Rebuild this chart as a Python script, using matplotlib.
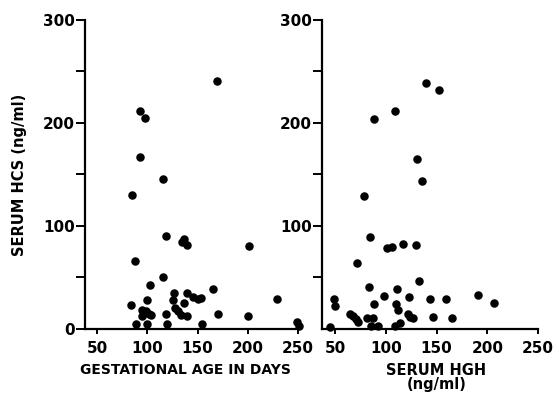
import numpy as np
import matplotlib
matplotlib.use('Agg')
import matplotlib.pyplot as plt

# left panel: gestational age (days) vs serum HCS (ng/ml)
age_days = [169, 93, 98, 93, 116, 85, 119, 137, 135, 140, 201, 88, 116, 103, 165,
            84, 100, 95, 102, 95, 99, 104, 89, 100, 120, 119, 127, 126, 137, 140,
            128, 131, 134, 140, 145, 150, 153, 229, 170, 200, 154, 249, 251]
hcs_age = [241, 212, 205, 167, 146, 130, 90, 87, 84, 82, 81, 66, 50, 43, 39,
           23, 28, 18, 15, 13, 17, 14, 5, 5, 5, 15, 35, 28, 25, 35,
           20, 17, 14, 13, 31, 29, 30, 29, 15, 13, 5, 7, 3]

# right panel: serum HGH (ng/ml) vs serum HCS (ng/ml)
hgh = [140, 152, 109, 88, 131, 136, 78, 84, 101, 106, 117, 130, 72, 133, 83,
       111, 98, 123, 144, 159, 191, 207, 49, 50, 88, 110, 112, 65, 68, 71,
       73, 81, 87, 85, 92, 109, 114, 122, 124, 127, 146, 165, 45]
hcs_hgh = [239, 232, 212, 204, 165, 144, 129, 89, 79, 80, 83, 82, 64, 47, 41,
           39, 32, 31, 29, 29, 33, 25, 29, 22, 24, 24, 18, 15, 13, 10,
           7, 11, 11, 3, 3, 3, 6, 15, 12, 11, 12, 11, 2]

x_ticks = [50, 100, 150, 200, 250]
y_major = [0, 100, 200, 300]
y_minor = [50, 150, 250]


def style(ax, xlim, yticks):
    ax.set_xlim(*xlim)
    ax.set_ylim(0, 300)
    for s in ['top', 'right']:
        ax.spines[s].set_visible(False)
    for s in ['left', 'bottom']:
        ax.spines[s].set_linewidth(1.6)
    ax.spines['left'].set_bounds(0, 300)
    ax.set_xticks(x_ticks)
    ax.set_xticklabels([str(t) for t in x_ticks], fontsize=11, fontweight='bold')
    ax.set_yticks(yticks)
    ax.set_yticklabels([str(t) for t in yticks], fontsize=11, fontweight='bold')
    ax.set_yticks(y_minor, minor=True)
    ax.tick_params(axis='y', which='both', direction='out', length=6.5, width=1.4, pad=1)
    ax.tick_params(axis='x', direction='out', length=3.5, width=1.4, pad=5)
    ax.patch.set_visible(False)


fig = plt.figure(figsize=(5.59, 3.95), dpi=100)

ax1 = fig.add_axes([0.1521, 0.1671, 0.3810, 0.7823])
ax1.scatter(age_days, hcs_age, s=26, color='black', clip_on=False, zorder=3)
style(ax1, (38, 250), y_major)
ax1.set_xlabel('GESTATIONAL AGE IN DAYS', fontsize=10, fontweight='bold')
ax1.xaxis.set_label_coords(0.47, -0.11)
ax1.set_ylabel('SERUM HCS (ng/ml)', fontsize=10.5, fontweight='bold', labelpad=11)

ax2 = fig.add_axes([0.5760, 0.1671, 0.3864, 0.7823])
ax2.scatter(hgh, hcs_hgh, s=26, color='black', clip_on=False, zorder=3)
style(ax2, (37, 250), y_major[1:])
ax2.set_xlabel('SERUM HGH\n(ng/ml)', fontsize=10.5, fontweight='bold', linespacing=0.95)
ax2.xaxis.set_label_coords(0.53, -0.11)

fig.savefig('out.png', dpi=100)
